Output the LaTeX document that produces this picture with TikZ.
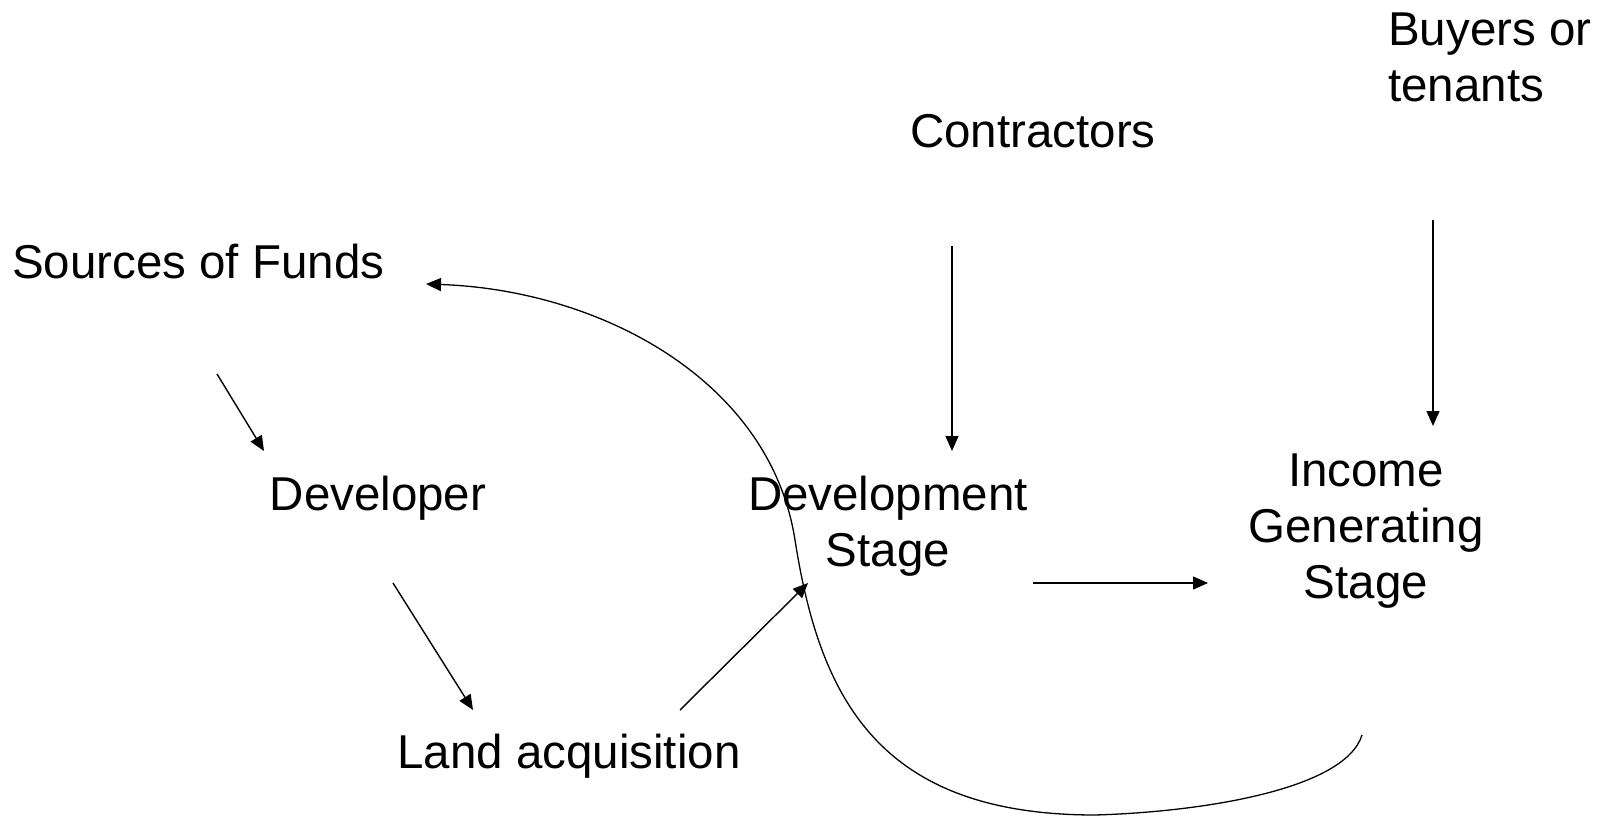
\documentclass[tikz,border=0pt]{standalone}
\usepackage{fontspec}
\setmainfont{Liberation Sans}
\usetikzlibrary{arrows.meta}
\begin{document}
\begin{tikzpicture}[x=1pt,y=-1pt,
  lbl/.style={inner sep=0pt,align=center,font=\fontsize{47.5}{56}\selectfont},
  arr/.style={line width=1.4pt,-{Triangle[length=15pt,width=13pt]}},
  curv/.style={line width=1.3pt,-{Triangle[length=15pt,width=13pt]}}]
\useasboundingbox[fill=white] (0,0) rectangle (1604,816);
% texts
\node[lbl,anchor=west] (src) at (12,262) {Sources of Funds};
\node[lbl] (dev) at (378,498) {Developer};
\node[lbl] (land) at (569,756) {Land acquisition};
\node[lbl] (devst) at (888,526) {Development\\Stage};
\node[lbl] (con) at (1033,131) {Contractors};
\node[lbl,align=left,anchor=north west] (buy) at (1388,13) {Buyers or\\tenants};
\node[lbl] (inc) at (1366,531) {Income\\Generating\\Stage};
% connector ends
\coordinate (a1) at (217,374); \coordinate (a2) at (264,451);
\coordinate (b1) at (393,583); \coordinate (b2) at (473,710);
\coordinate (c1) at (680,710); \coordinate (c2) at (808,583);
\coordinate (d1) at (952,246); \coordinate (d2) at (952,451);
\coordinate (e1) at (1433,220); \coordinate (e2) at (1433,426);
\coordinate (f1) at (1033,583); \coordinate (f2) at (1208,583);
\coordinate (g1) at (1362,735); \coordinate (gb) at (1095,815);
\coordinate (gm) at (795,540); \coordinate (g2) at (426,284);
\draw[arr] (a1) -- (a2);
\draw[arr] (b1) -- (b2);
\draw[arr] (c1) -- (c2);
\draw[arr] (d1) -- (d2);
\draw[arr] (e1) -- (e2);
\draw[arr] (f1) -- (f2);
\draw[curv] (g1) .. controls (1345,790) and (1200,812) .. (gb)
  .. controls (880,815) and (820,700) .. (gm)
  .. controls (770,380) and (600,290) .. (g2);
\end{tikzpicture}
\end{document}
